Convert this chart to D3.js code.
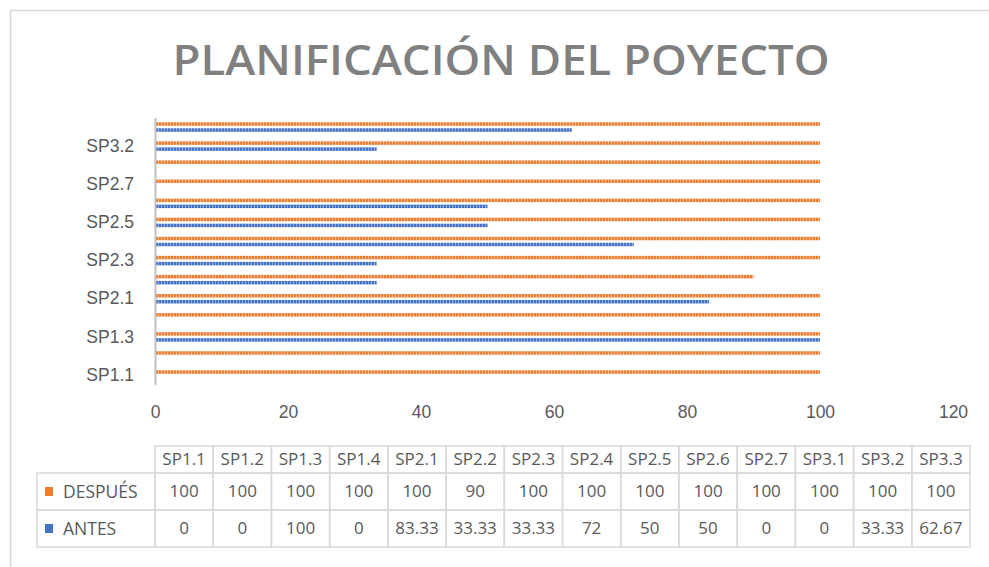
<!DOCTYPE html>
<html>
<head>
<meta charset="utf-8">
<script src="https://cdn.jsdelivr.net/npm/d3@7"></script>
<style>
  html, body { margin: 0; padding: 0; background: #fff; }
  svg { display: block; font-family: "Open Sans", Lato, sans-serif; }
</style>
</head>
<body>
<svg id="chart" width="989" height="567"></svg>
<script>
// Sub-project identifiers, bottom to top
const categories = ["SP1.1","SP1.2","SP1.3","SP1.4","SP2.1","SP2.2","SP2.3","SP2.4","SP2.5","SP2.6","SP2.7","SP3.1","SP3.2","SP3.3"];
// Percentage of progress per sub-project
const despues = [100,100,100,100,100,90,100,100,100,100,100,100,100,100];
const antes   = [0,0,100,0,83.33,33.33,33.33,72,50,50,0,0,33.33,62.67];
const seriesNames = ["DESPUÉS","ANTES"];
const seriesColors = ["#ED7D31","#4472C4"];
const seriesLight  = ["#F6B58C","#93ACE0"];
const xTicks = [0,20,40,60,80,100,120];
const title = "PLANIFICACIÓN DEL POYECTO";

const series = [despues, antes];
const svg = d3.select("#chart");
const textColor = "#595959";
const gridColor = "#d9d9d9";
const labelSize = 17.5;

// Striped fills for bars and legend keys
const defs = svg.append("defs");
seriesNames.forEach((name, i) => {
  const p = defs.append("pattern")
    .attr("id", "stripe" + i)
    .attr("patternUnits", "userSpaceOnUse")
    .attr("width", 3).attr("height", 3);
  p.append("rect").attr("width", 3).attr("height", 3).attr("fill", seriesLight[i]);
  p.append("rect").attr("width", 2).attr("height", 3).attr("fill", seriesColors[i]);
});

// Chart frame
svg.append("rect")
  .attr("x", 10.5).attr("y", 10.5)
  .attr("width", 1100).attr("height", 700)
  .attr("fill", "#fff")
  .attr("stroke", gridColor).attr("stroke-width", 1.5);

// Title
svg.append("text")
  .attr("x", 501).attr("y", 75)
  .attr("text-anchor", "middle")
  .attr("fill", "#808080")
  .attr("font-family", "'Open Sans', Lato, sans-serif")
  .attr("font-weight", 600)
  .attr("font-size", 42)
  .attr("textLength", 657)
  .attr("lengthAdjust", "spacingAndGlyphs")
  .text(title);

// Scales
const x = d3.scaleLinear().domain([0, 120]).range([155, 953]);
const y = d3.scaleBand().domain(categories.slice().reverse()).range([117.5, 384.6]).padding(0);
const c0 = y.bandwidth() / 2;
const ySeries = d3.scaleBand().domain(seriesNames).range([c0 - 4.75, c0 + 4.75]).paddingInner(0.4167).paddingOuter(0);

// Bars
const rows = svg.append("g").selectAll("g")
  .data(categories)
  .join("g")
  .attr("transform", d => `translate(0,${y(d)})`);

rows.selectAll("rect")
  .data((d, ci) => seriesNames.map((s, si) => ({ s, si, v: series[si][ci] })))
  .join("rect")
  .attr("x", x(0))
  .attr("y", d => ySeries(d.s))
  .attr("height", ySeries.bandwidth())
  .attr("width", d => x(d.v) - x(0))
  .attr("fill", d => `url(#stripe${d.si})`);

// X axis (labels only)
const xAxis = svg.append("g")
  .attr("transform", "translate(0,384)")
  .call(d3.axisBottom(x).tickValues(xTicks).tickSize(0).tickPadding(22));
xAxis.select(".domain").remove();
xAxis.selectAll("text").attr("fill", textColor).attr("font-size", labelSize);

// Y axis with every second category labelled
const yAxis = svg.append("g")
  .attr("transform", "translate(155,0)")
  .call(d3.axisLeft(y).tickValues(categories.filter((d, i) => i % 2 === 0)).tickSize(0).tickPadding(21));
yAxis.select(".domain").attr("stroke", "#bfbfbf").attr("stroke-width", 2);
yAxis.selectAll("text").attr("fill", textColor).attr("font-size", labelSize);

// Data table
const col = d3.scaleBand().domain(categories).range([155, 970]);
const rowTop = [446, 473, 510];
const rowBottom = [473, 510, 547];
const legendLeft = 37;
const table = svg.append("g");

// Header row
categories.forEach(c => {
  table.append("rect")
    .attr("x", col(c)).attr("y", rowTop[0])
    .attr("width", col.bandwidth()).attr("height", rowBottom[0] - rowTop[0])
    .attr("fill", "none").attr("stroke", gridColor).attr("stroke-width", 1.5);
  table.append("text")
    .attr("x", col(c) + col.bandwidth() / 2)
    .attr("y", (rowTop[0] + rowBottom[0]) / 2)
    .attr("dy", "0.35em")
    .attr("text-anchor", "middle")
    .attr("fill", textColor).attr("font-size", 17)
    .text(c);
});

// Series rows
seriesNames.forEach((name, si) => {
  const top = rowTop[si + 1], bottom = rowBottom[si + 1];
  const mid = (top + bottom) / 2;
  table.append("rect")
    .attr("x", legendLeft).attr("y", top)
    .attr("width", col(categories[0]) - legendLeft).attr("height", bottom - top)
    .attr("fill", "none").attr("stroke", gridColor).attr("stroke-width", 1.5);
  table.append("rect")
    .attr("x", 45).attr("y", mid - 4.5)
    .attr("width", 8).attr("height", 9)
    .attr("fill", seriesColors[si]);
  table.append("text")
    .attr("x", 63).attr("y", mid).attr("dy", "0.35em")
    .attr("fill", textColor).attr("font-size", labelSize)
    .text(name);
  categories.forEach((c, ci) => {
    table.append("rect")
      .attr("x", col(c)).attr("y", top)
      .attr("width", col.bandwidth()).attr("height", bottom - top)
      .attr("fill", "none").attr("stroke", gridColor).attr("stroke-width", 1.5);
    table.append("text")
      .attr("x", col(c) + col.bandwidth() / 2)
      .attr("y", mid).attr("dy", "0.35em")
      .attr("text-anchor", "middle")
      .attr("fill", textColor).attr("font-size", 17)
      .text(series[si][ci]);
  });
});
</script>
</body>
</html>
